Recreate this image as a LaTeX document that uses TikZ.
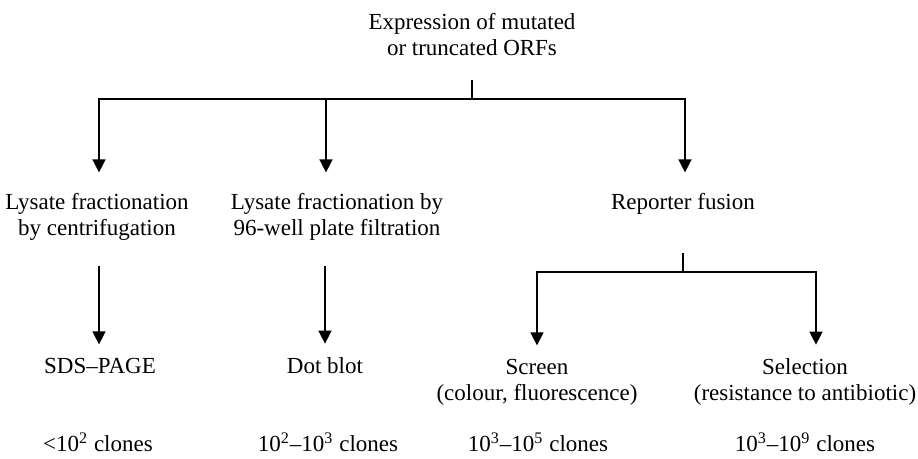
\documentclass[tikz,border=0pt]{standalone}
\usepackage{fontspec}
\setmainfont{Liberation Serif}
\usetikzlibrary{arrows.meta,positioning}
\tikzstyle{txt} = [draw=none, fill=none, align=center, inner sep=0pt, anchor=base, font=\fontsize{11.5}{13}\selectfont]
\tikzstyle{tline} = [draw, line width=0.75pt]
\tikzstyle{tedge} = [draw, line width=0.75pt, -{Triangle[width=6.5pt,length=6.5pt]}]
\newcommand{\sps}[1]{\textsuperscript{#1}}

\begin{document}
\begin{tikzpicture}[x=0.5pt, y=-0.5pt]
\useasboundingbox (0,0) rectangle (918,459);

% nodes =============================
% (base of a two-line node = baseline of its last line)
\node[txt] (expr) at (472,56) {Expression of mutated\\or truncated ORFs};
\node[txt] (lysA) at (97,236) {Lysate fractionation\\by centrifugation};
\node[txt] (lysB) at (337,236) {Lysate fractionation by\\96-well plate filtration};
\node[txt] (rep) at (683,210) {Reporter fusion};
\node[txt] (sds) at (100,374) {SDS--PAGE};
\node[txt] (dot) at (325,374) {Dot blot};
\node[txt] (scr) at (537,401) {Screen\\(colour, fluorescence)};
\node[txt] (sel) at (805,401) {Selection\\(resistance to antibiotic)};
\node[txt] (numA) at (98,452) {<10\sps{2} clones};
\node[txt] (numB) at (328,452) {10\sps{2}--10\sps{3} clones};
\node[txt] (numC) at (538,452) {10\sps{3}--10\sps{5} clones};
\node[txt] (numD) at (805,452) {10\sps{3}--10\sps{9} clones};

% junctions
\coordinate (sTop) at (472,80);
\coordinate (jTop) at (472,99);
\coordinate (dA) at (99,99);
\coordinate (dB) at (326,99);
\coordinate (dC) at (685,99);
\coordinate (sA) at (99,266);
\coordinate (sB) at (325,266);
\coordinate (sR) at (683,253);
\coordinate (jR) at (683,272);
\coordinate (dS) at (537,272);
\coordinate (dT) at (816,272);

% edges =============================
\path[tline] (sTop) -- (jTop);
\path[tedge, shorten >=10.5pt] (jTop) -- (dA) -- (dA |- lysA.north);
\path[tedge, shorten >=10.5pt] (dB) -- (dB |- lysB.north);
\path[tedge, shorten >=10.5pt] (jTop) -- (dC) -- (dC |- rep.north);
\path[tedge, shorten >=7pt] (sA) -- (sA |- sds.north);
\path[tedge, shorten >=7pt] (sB) -- (sB |- dot.north);
\path[tline] (sR) -- (jR);
\path[tedge, shorten >=7pt] (jR) -- (dS) -- (dS |- scr.north);
\path[tedge, shorten >=7pt] (jR) -- (dT) -- (dT |- sel.north);

\end{tikzpicture}
\end{document}
